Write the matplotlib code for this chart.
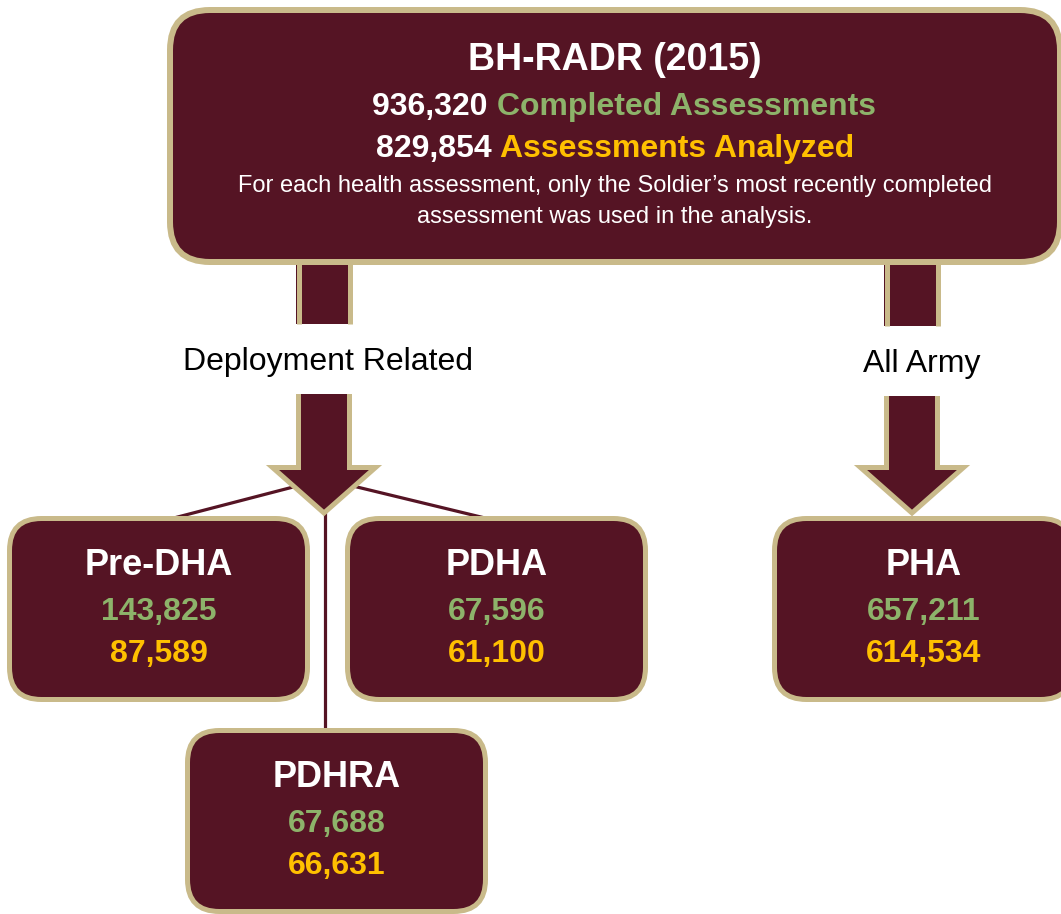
import matplotlib
matplotlib.use("Agg")
import matplotlib.pyplot as plt
from matplotlib.patches import FancyBboxPatch, Polygon, Rectangle

MAROON = "#551424"
TAN = "#C9BA8A"
GREEN = "#8DB36A"
GOLD = "#FFC000"
FONT = "Liberation Sans"

title = "BH-RADR (2015)"
total_completed = "936,320"
total_analyzed = "829,854"
note_lines = ["For each health assessment, only the Soldier\u2019s most recently completed",
              "assessment was used in the analysis."]
branch_labels = ["Deployment Related", "All Army"]
box_names = ["Pre-DHA", "PDHA", "PDHRA", "PHA"]
box_completed = ["143,825", "67,596", "67,688", "657,211"]
box_analyzed = ["87,589", "61,100", "66,631", "614,534"]

# layout (pixel coords, y downwards)
box_pos = [(7, 516), (345, 516), (185, 728), (772, 516)]
BOX_W, BOX_H = 303, 186

fig = plt.figure(figsize=(10.61, 9.14), dpi=100)
ax = fig.add_axes([0, 0, 1, 1])
ax.set_xlim(0, 1061)
ax.set_ylim(914, 0)
ax.axis("off")
renderer = fig.canvas.get_renderer()


def rbox(x0, y0, w, h, r, lw):
    p = FancyBboxPatch((x0 + lw / 2, y0 + lw / 2), w - lw, h - lw,
                       boxstyle=f"round,pad=0,rounding_size={r}",
                       fc=MAROON, ec=TAN, lw=lw * 0.72, zorder=5)
    ax.add_patch(p)


def stem(xc, y0, y1, w=56, lw=5):
    ax.add_patch(Rectangle((xc - w / 2, y0), w, y1 - y0, fc=MAROON, ec="none", zorder=2))
    for x in (xc - w / 2 + lw / 2, xc + w / 2 - lw / 2):
        ax.plot([x, x], [y0, y1], color=TAN, lw=lw * 0.72, zorder=3, solid_capstyle="butt")


def arrow(xc, y0, yh, ytip, w=56, hw=113, lw=5):
    d = lw / 2
    pts = [(xc - w / 2 + d, y0), (xc - w / 2 + d, yh + d), (xc - hw / 2 + 2 * d, yh + d),
           (xc, ytip - 2 * d), (xc + hw / 2 - 2 * d, yh + d), (xc + w / 2 - d, yh + d),
           (xc + w / 2 - d, y0)]
    ax.add_patch(Polygon(pts, closed=True, fc=MAROON, ec="none", zorder=4))
    ax.plot([p[0] for p in pts], [p[1] for p in pts], color=TAN, lw=lw * 0.72,
            zorder=4, solid_joinstyle="miter", solid_capstyle="butt")


def two_tone(xc, y, parts, size):
    texts = [ax.text(0, y, s, color=c, fontsize=size, fontweight="bold", family=FONT,
                     ha="left", va="baseline", zorder=10) for s, c in parts]
    widths = [t.get_window_extent(renderer).width for t in texts]
    x = xc - sum(widths) / 2
    for t, w in zip(texts, widths):
        t.set_x(x)
        x += w


# stems and arrows
stem(324, 262, 324)
stem(912, 262, 326)
arrow(324, 394, 465, 518)
arrow(912, 396, 465, 518)

# connector lines
ax.plot([170, 324, 485], [519, 479, 518], color=MAROON, lw=2.3, zorder=1)
ax.plot([325, 325], [500, 730], color=MAROON, lw=2.3, zorder=1)

# main box
rbox(167, 7, 896, 258, 40, 6)
ax.text(615, 70, title, color="white", fontsize=27, fontweight="bold", family=FONT,
        ha="center", va="baseline", zorder=10)
two_tone(624, 115, [(total_completed + " ", "white"), ("Completed Assessments", GREEN)], 23)
two_tone(615, 157, [(total_analyzed + " ", "white"), ("Assessments Analyzed", GOLD)], 23)
for line, yb in zip(note_lines, [192, 223]):
    ax.text(615, yb, line, color="white", fontsize=17, family=FONT,
            ha="center", va="baseline", zorder=10)

# branch labels
ax.text(328, 370, branch_labels[0], color="black", fontsize=23, family=FONT,
        ha="center", va="baseline")
ax.text(922, 372, branch_labels[1], color="black", fontsize=23, family=FONT,
        ha="center", va="baseline")

# assessment boxes
for name, comp, anal, (x0, y0) in zip(box_names, box_completed, box_analyzed, box_pos):
    rbox(x0, y0, BOX_W, BOX_H, 32, 5)
    xc = x0 + BOX_W / 2
    ax.text(xc, y0 + 59, name, color="white", fontsize=26, fontweight="bold", family=FONT,
            ha="center", va="baseline", zorder=10)
    ax.text(xc, y0 + 104, comp, color=GREEN, fontsize=23, fontweight="bold", family=FONT,
            ha="center", va="baseline", zorder=10)
    ax.text(xc, y0 + 146, anal, color=GOLD, fontsize=23, fontweight="bold", family=FONT,
            ha="center", va="baseline", zorder=10)

fig.savefig("out.png", dpi=100)
